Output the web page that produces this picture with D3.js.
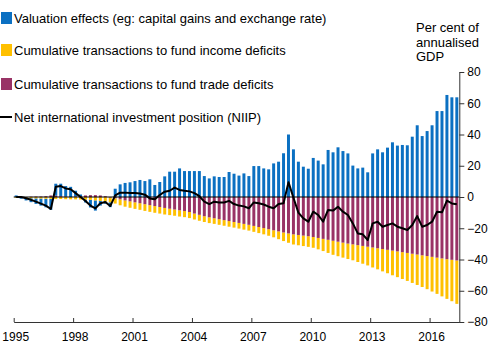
<!DOCTYPE html>
<html><head><meta charset="utf-8">
<script src="https://cdn.jsdelivr.net/npm/d3@7"></script>
<style>
html,body{margin:0;padding:0;background:#fff;}
svg{display:block;font-family:"Liberation Sans",Arial,sans-serif;}
</style></head>
<body><svg id="c" width="500" height="353"></svg>
<script>
const quarters = [
"1995Q1","1995Q2","1995Q3","1995Q4","1996Q1","1996Q2","1996Q3","1996Q4",
"1997Q1","1997Q2","1997Q3","1997Q4","1998Q1","1998Q2","1998Q3","1998Q4",
"1999Q1","1999Q2","1999Q3","1999Q4","2000Q1","2000Q2","2000Q3","2000Q4",
"2001Q1","2001Q2","2001Q3","2001Q4","2002Q1","2002Q2","2002Q3","2002Q4",
"2003Q1","2003Q2","2003Q3","2003Q4","2004Q1","2004Q2","2004Q3","2004Q4",
"2005Q1","2005Q2","2005Q3","2005Q4","2006Q1","2006Q2","2006Q3","2006Q4",
"2007Q1","2007Q2","2007Q3","2007Q4","2008Q1","2008Q2","2008Q3","2008Q4",
"2009Q1","2009Q2","2009Q3","2009Q4","2010Q1","2010Q2","2010Q3","2010Q4",
"2011Q1","2011Q2","2011Q3","2011Q4","2012Q1","2012Q2","2012Q3","2012Q4",
"2013Q1","2013Q2","2013Q3","2013Q4","2014Q1","2014Q2","2014Q3","2014Q4",
"2015Q1","2015Q2","2015Q3","2015Q4","2016Q1","2016Q2","2016Q3","2016Q4",
"2017Q1","2017Q2"];

// Valuation effects (blue)
const valuation = [
1.0,-0.5,-1.5,-2.5,-3.5,-4.5,-5.5,-7.0,
7.7,8.0,6.8,6.5,3.7,1.0,-1.8,-4.9,
-6.5,-3.0,-1.5,-3.1,5.3,8.1,9.0,9.4,
10.2,10.9,10.2,11.3,7.7,9.6,13.2,16.2,
16.2,18.3,16.6,16.6,16.6,16.6,13.4,11.9,
13.2,12.8,12.8,16.0,14.9,13.7,15.1,13.4,
19.8,19.8,18.3,17.7,21.5,22.6,28.0,40.0,
30.5,22.6,19.4,18.1,25.0,23.3,20.9,30.1,
28.6,31.8,29.4,27.9,20.1,18.3,18.8,15.8,
27.9,30.5,28.6,31.6,35.0,32.9,33.3,33.1,
38.6,45.9,39.0,42.2,45.9,55.0,55.0,65.3,
63.8,63.8];

// Cumulative transactions to fund trade deficits (maroon)
const trade = [
0,0,0,0.2,0.3,0.3,0.5,1.0,
0.8,0.5,0.2,0,0.3,0.6,1.0,1.2,
1.2,1.0,0.5,-0.3,-0.8,-1.5,-2.2,-2.8,
-3.4,-4.0,-4.6,-5.2,-5.8,-6.4,-7.0,-7.5,
-8.0,-8.5,-9.0,-9.6,-10.6,-11.4,-12.3,-13.0,
-13.6,-14.2,-14.8,-15.4,-16.0,-16.6,-17.2,-17.8,
-18.5,-19.2,-19.9,-20.6,-21.3,-22.0,-22.7,-23.3,
-23.9,-24.3,-24.7,-25.1,-25.6,-26.2,-26.8,-27.4,
-28.0,-28.6,-29.2,-29.8,-30.3,-30.8,-31.3,-31.8,
-32.3,-32.8,-33.3,-33.8,-34.3,-34.8,-35.3,-35.8,
-36.3,-36.8,-37.3,-37.8,-38.3,-38.8,-39.3,-39.8,
-40.2,-40.6];

// Cumulative transactions to fund income deficits (yellow)
const income = [
-0.5,-0.6,-0.7,-0.8,-0.9,-1.0,-1.1,-1.2,
-1.3,-1.3,-1.4,-1.5,-1.5,-1.6,-1.7,-1.8,
-2.2,-2.5,-2.8,-3.1,-3.4,-3.8,-4.0,-4.1,
-4.2,-4.2,-4.3,-4.3,-4.3,-4.2,-4.2,-4.1,
-4.0,-4.0,-3.9,-3.9,-3.8,-3.8,-3.7,-3.7,
-3.6,-3.6,-3.6,-3.6,-3.6,-3.6,-3.7,-3.7,
-3.8,-3.9,-4.0,-4.2,-4.5,-5.0,-5.5,-6.0,
-6.5,-6.6,-6.7,-6.8,-6.9,-7.3,-7.8,-8.4,
-9.0,-9.3,-9.6,-9.9,-10.2,-10.8,-11.4,-12.0,
-12.8,-13.5,-14.3,-15.0,-15.8,-16.5,-17.2,-17.9,
-18.7,-19.5,-20.3,-21.2,-22.2,-23.2,-24.3,-25.4,
-26.5,-27.8];

// Net international investment position (line)
const niip = [
0,0,-0.8,-1.8,-3.0,-4.2,-5.5,-7.7,
6.6,7.0,5.5,5.0,2.5,0,-2.5,-5.5,
-7.3,-4.0,-3.2,-5.8,1.0,2.8,2.8,2.5,
2.6,2.3,1.5,-0.9,-1.5,1.3,3.4,4.0,
6.0,4.5,4.0,3.6,2.5,0.5,-3.0,-4.5,
-3.0,-3.5,-3.5,-2.5,-4.5,-5.5,-6.0,-7.2,
-3.5,-4.0,-4.8,-6.2,-7.2,-4.5,-4.0,9.5,
-0.5,-10.0,-13.7,-15.8,-9.4,-11.5,-15.8,-8.3,
-8.7,-6.2,-9.4,-11.5,-16.9,-23.3,-23.9,-27.5,
-16.9,-15.8,-19.0,-17.9,-16.9,-19.0,-20.0,-21.1,
-17.9,-12.2,-19.0,-17.9,-15.8,-9.4,-9.8,-2.3,
-4.1,-4.7];

const yearTicks = [1995,1998,2001,2004,2007,2010,2013,2016];
const yTicks = [-80,-60,-40,-20,0,20,40,60,80];
const legendLabels = [
 "Valuation effects (eg: capital gains and exchange rate)",
 "Cumulative transactions to fund income deficits",
 "Cumulative transactions to fund trade deficits",
 "Net international investment position (NIIP)"];
const unitLabel = ["Per cent of","annualised","GDP"];

const colors = {valuation:"#0B70C2", income:"#FFC000", trade:"#993366"};

const svg = d3.select("#c");
const pL = 13.7, pR = 459.3, pT = 72, pB = 322;

const x = d3.scaleBand().domain(quarters).range([pL,pR]).paddingInner(0.4).paddingOuter(0.2);
const xYear = d3.scaleLinear().domain([1995,2017.5]).range([pL,pR]);
const y = d3.scaleLinear().domain([-80,80]).range([pB,pT]);

const table = quarters.map((q,i)=>({q, valuation:valuation[i], income:income[i], trade:trade[i]}));
const stack = d3.stack().keys(["trade","income","valuation"]).offset(d3.stackOffsetDiverging);
const series = stack(table);

["valuation","income","trade"].forEach(k=>{
  const s = series.find(d=>d.key===k);
  svg.append("g").selectAll("rect").data(s).join("rect")
    .attr("x", d=>x(d.data.q))
    .attr("width", x.bandwidth())
    .attr("y", d=>y(Math.max(d[0],d[1])))
    .attr("height", d=>Math.abs(y(d[0])-y(d[1])))
    .attr("fill", colors[k]);
});

// zero line
svg.append("line").attr("x1",pL).attr("x2",pR).attr("y1",y(0)).attr("y2",y(0))
  .attr("stroke","#000").attr("stroke-width",1);

// NIIP line
const line = d3.line().x((d,i)=>x(quarters[i])+x.bandwidth()/2).y(d=>y(d));
svg.append("path").datum(niip).attr("d",line).attr("fill","none")
  .attr("stroke","#000").attr("stroke-width",2).attr("stroke-linejoin","round");

// x axis
const xa = svg.append("g").attr("transform",`translate(0,${pB})`)
  .call(d3.axisBottom(xYear).tickValues(yearTicks).tickFormat(d3.format("d")).tickSize(-4).tickSizeOuter(0));
xa.select(".domain").attr("stroke","#333");
xa.selectAll(".tick line").attr("stroke","#333");
xa.selectAll("text").attr("y",10).attr("dy","0.71em").attr("dx",1.5)
  .attr("font-size",12).attr("font-family","Liberation Sans, Arial, sans-serif").attr("fill","#000");

// y axis
const ya = svg.append("g").attr("transform",`translate(${pR},0)`)
  .call(d3.axisRight(y).tickValues(yTicks).tickSize(5).tickSizeOuter(0).tickPadding(3));
ya.select(".domain").attr("stroke","#333");
ya.selectAll(".tick line").attr("stroke","#333");
ya.selectAll("text").attr("font-size",12).attr("font-family","Liberation Sans, Arial, sans-serif").attr("fill","#000");

// unit label
svg.append("text").attr("x",416).attr("y",32).attr("font-size",13).attr("fill","#000")
  .selectAll("tspan").data(unitLabel).join("tspan").attr("x",416).attr("dy",(d,i)=>i?14.5:0).text(d=>d);

// legend
const lg = svg.append("g");
const legY = [18, 50, 84, 117];
const legColors = [colors.valuation, colors.income, colors.trade];
legendLabels.forEach((t,i)=>{
  if(i<3){
    lg.append("rect").attr("x",1).attr("y",legY[i]-6).attr("width",11).attr("height",12).attr("fill",legColors[i]);
  } else {
    lg.append("line").attr("x1",0).attr("x2",12).attr("y1",legY[i]).attr("y2",legY[i]).attr("stroke","#000").attr("stroke-width",2);
  }
  lg.append("text").attr("x",14).attr("y",legY[i]+4.7).attr("font-size",13).attr("fill","#000").text(t);
});
</script></body></html>
